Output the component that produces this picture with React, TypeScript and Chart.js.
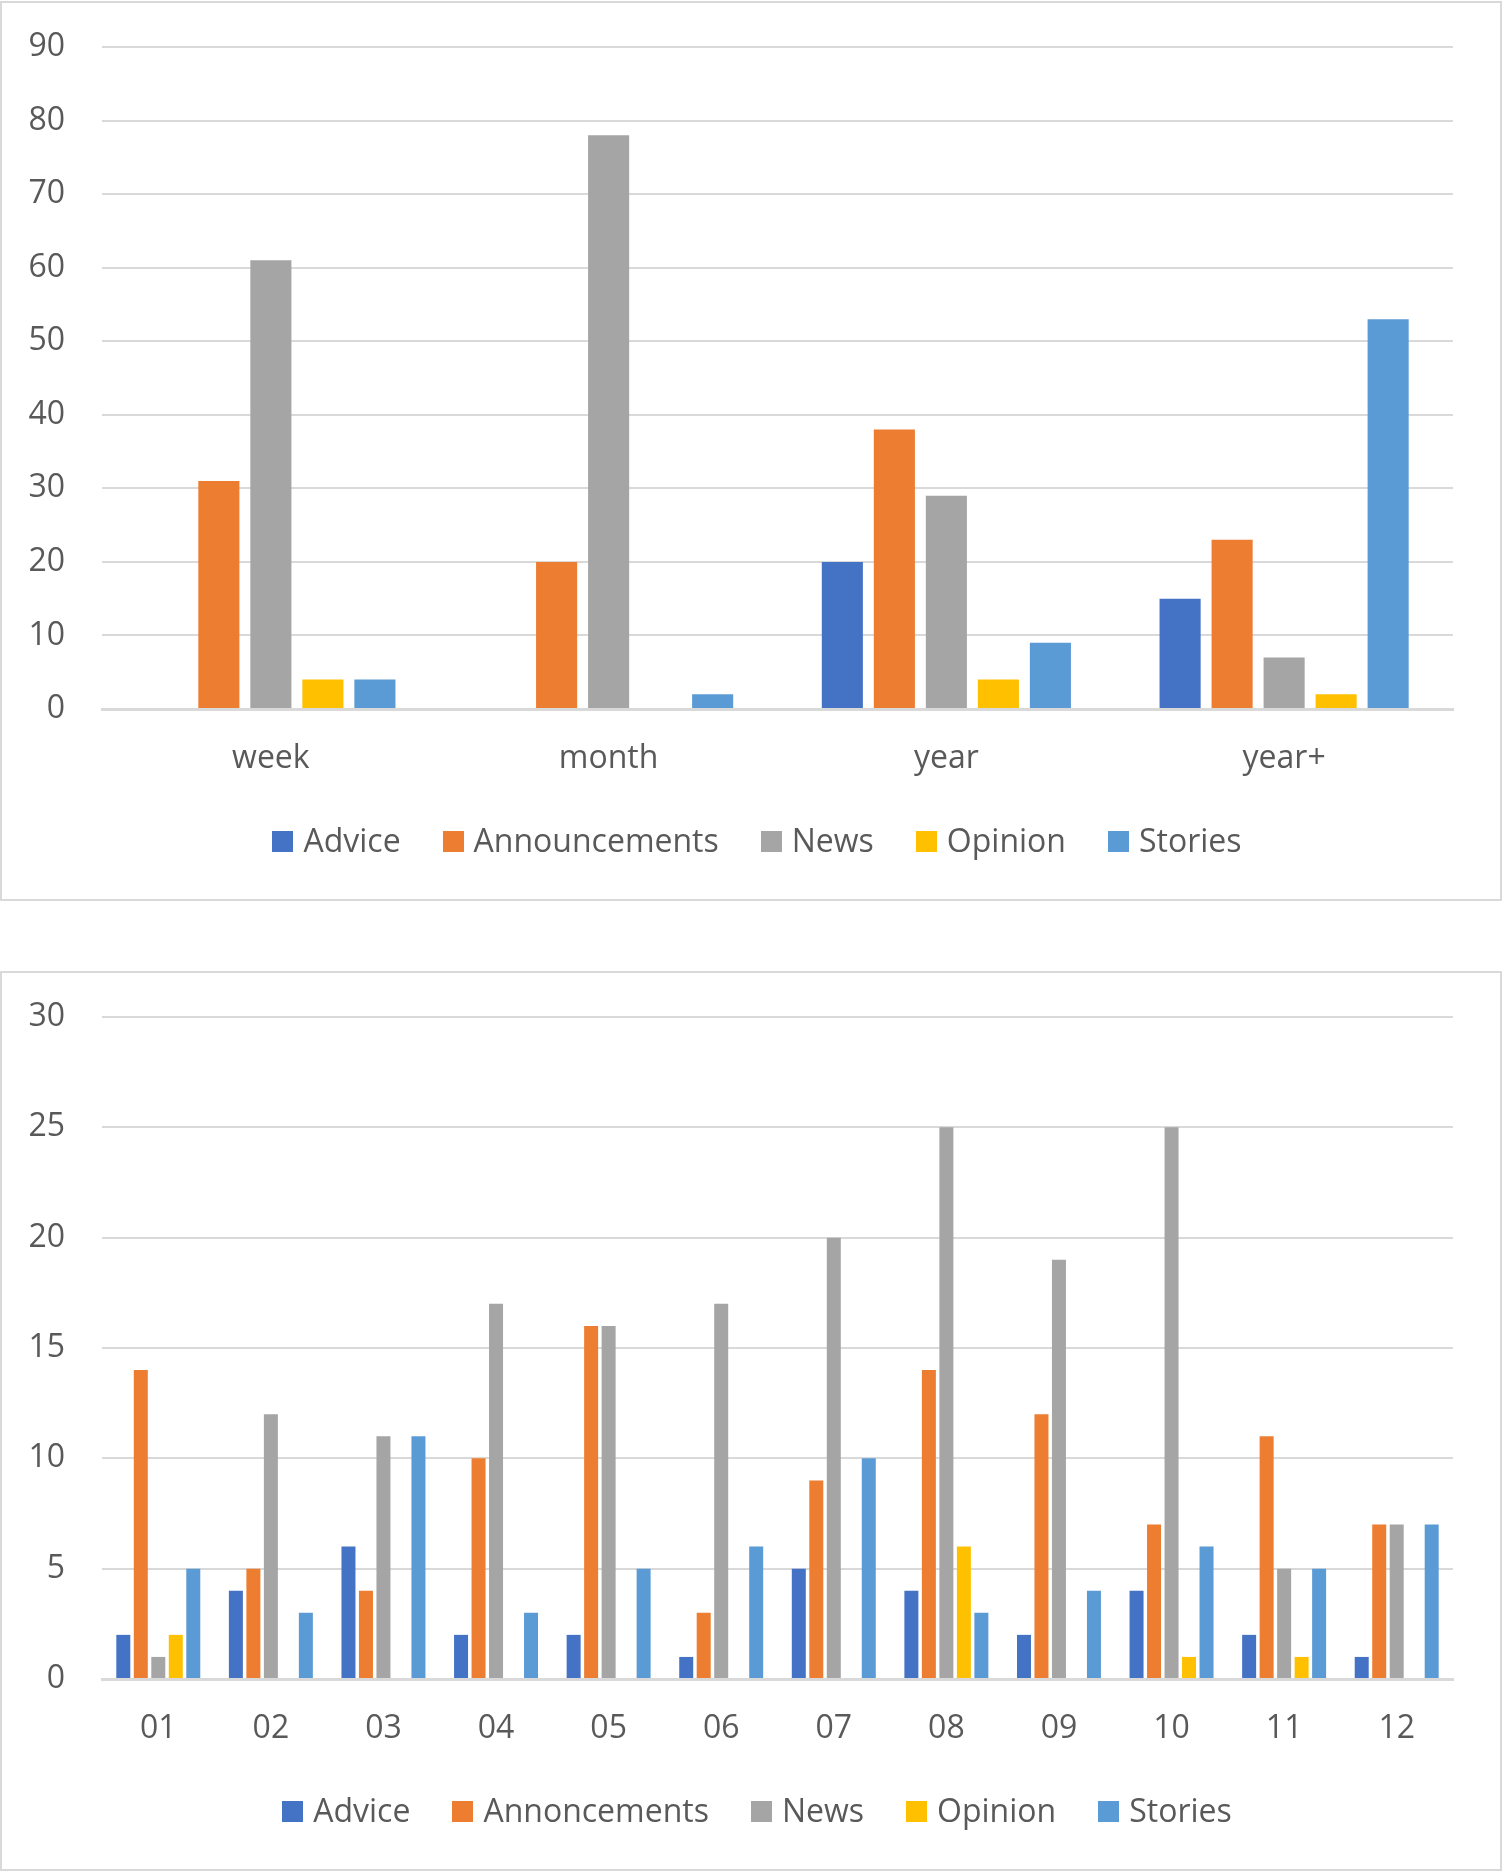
import React, { useEffect, useRef } from 'react';
import { Chart, registerables } from 'chart.js';

Chart.register(...registerables);

// ---------- Data: chart 1 (by age of post) ----------
const periodCategories = ['week', 'month', 'year', 'year+'];
const periodSeriesNames = ['Advice', 'Announcements', 'News', 'Opinion', 'Stories'];
const periodAdvice = [0, 0, 20, 15];
const periodAnnouncements = [31, 20, 38, 23];
const periodNews = [61, 78, 29, 7];
const periodOpinion = [4, 0, 4, 2];
const periodStories = [4, 2, 9, 53];
const periodYMax = 90;
const periodYStep = 10;

// ---------- Data: chart 2 (by month) ----------
const monthCategories = ['01', '02', '03', '04', '05', '06', '07', '08', '09', '10', '11', '12'];
const monthSeriesNames = ['Advice', 'Annoncements', 'News', 'Opinion', 'Stories'];
const monthAdvice = [2, 4, 6, 2, 2, 1, 5, 4, 2, 4, 2, 1];
const monthAnnoncements = [14, 5, 4, 10, 16, 3, 9, 14, 12, 7, 11, 7];
const monthNews = [1, 12, 11, 17, 16, 17, 20, 25, 19, 25, 5, 7];
const monthOpinion = [2, 0, 0, 0, 0, 0, 0, 6, 0, 1, 1, 0];
const monthStories = [5, 3, 11, 3, 5, 6, 10, 3, 4, 6, 5, 7];
const monthYMax = 30;
const monthYStep = 5;

const seriesColors = ['#4472C4', '#ED7D31', '#A5A5A5', '#FFC000', '#5B9BD5'];

const FONT = '"Open Sans", "Noto Sans", sans-serif';
const TEXT_COLOR = '#595959';
const GRID_COLOR = '#d9d9d9';
const FONT_SIZE = 32;

const CANVAS_W = 1502;
const CANVAS_H = 900;

type BoxProps = {
  top: number;
  categories: string[];
  names: string[];
  values: number[][];
  yMax: number;
  yStep: number;
  catPct: number;
  barPct: number;
};

function ChartBox({ top, categories, names, values, yMax, yStep, catPct, barPct }: BoxProps) {
  const ref = useRef<HTMLCanvasElement>(null);

  useEffect(() => {
    if (!ref.current) return;
    const chart = new Chart(ref.current, {
      type: 'bar',
      data: {
        labels: categories,
        datasets: names.map((n, i) => ({
          label: n,
          data: values[i],
          backgroundColor: seriesColors[i],
          borderWidth: 0,
          categoryPercentage: catPct,
          barPercentage: barPct,
        })),
      },
      options: {
        animation: false,
        responsive: false,
        maintainAspectRatio: false,
        layout: { padding: { left: 0, right: CANVAS_W - 1453, top: 47, bottom: 0 } },
        plugins: {
          legend: { display: false },
          tooltip: { enabled: false },
        },
        scales: {
          x: {
            grid: { display: false, drawTicks: false },
            border: { display: true, color: GRID_COLOR, width: 3 },
            ticks: {
              padding: 31,
              color: TEXT_COLOR,
              font: { family: FONT, size: FONT_SIZE },
              maxRotation: 0,
              autoSkip: false,
            },
            afterFit: (s: any) => {
              s.height = 191;
              s.paddingTop = 0;
              s.paddingBottom = 0;
            },
          },
          y: {
            min: 0,
            max: yMax,
            ticks: {
              stepSize: yStep,
              padding: 37,
              color: TEXT_COLOR,
              font: { family: FONT, size: FONT_SIZE },
            },
            grid: { color: GRID_COLOR, lineWidth: 2, drawTicks: false },
            border: { display: false },
            afterFit: (s: any) => {
              s.width = 102;
              s.paddingTop = 0;
              s.paddingBottom = 0;
            },
          },
        },
      },
    });
    return () => chart.destroy();
  }, []);

  return (
    <>
      <div
        style={{
          position: 'absolute',
          left: 0,
          top: top + 1,
          width: 1502,
          height: 900,
          boxSizing: 'border-box',
          border: `2px solid ${GRID_COLOR}`,
          background: '#fff',
        }}
      />
      <canvas
        ref={ref}
        width={CANVAS_W}
        height={CANVAS_H}
        style={{ position: 'absolute', left: 0, top, width: CANVAS_W, height: CANVAS_H }}
      />
      <div
        style={{
          position: 'absolute',
          left: 0,
          top: top + 820,
          width: CANVAS_W,
          height: 40,
          paddingLeft: 12,
          boxSizing: 'border-box',
          display: 'flex',
          justifyContent: 'center',
          gap: 42,
          fontFamily: FONT,
          fontSize: FONT_SIZE,
          lineHeight: '40px',
          color: TEXT_COLOR,
          whiteSpace: 'nowrap',
        }}
      >
        {names.map((n, i) => (
          <div key={n}>
            <span
              style={{
                display: 'inline-block',
                width: 21,
                height: 21,
                marginRight: 10,
                background: seriesColors[i],
                verticalAlign: 'baseline',
              }}
            />
            {n}
          </div>
        ))}
      </div>
    </>
  );
}

export default function App() {
  return (
    <div
      style={{
        position: 'absolute',
        left: 0,
        top: 0,
        width: 1504,
        height: 1874,
        overflow: 'hidden',
        background: '#fff',
      }}
    >
      <ChartBox
        top={0}
        categories={periodCategories}
        names={periodSeriesNames}
        values={[periodAdvice, periodAnnouncements, periodNews, periodOpinion, periodStories]}
        yMax={periodYMax}
        yStep={periodYStep}
        catPct={0.77}
        barPct={0.79}
      />
      <ChartBox
        top={970}
        categories={monthCategories}
        names={monthSeriesNames}
        values={[monthAdvice, monthAnnoncements, monthNews, monthOpinion, monthStories]}
        yMax={monthYMax}
        yStep={monthYStep}
        catPct={0.777}
        barPct={0.8}
      />
    </div>
  );
}
